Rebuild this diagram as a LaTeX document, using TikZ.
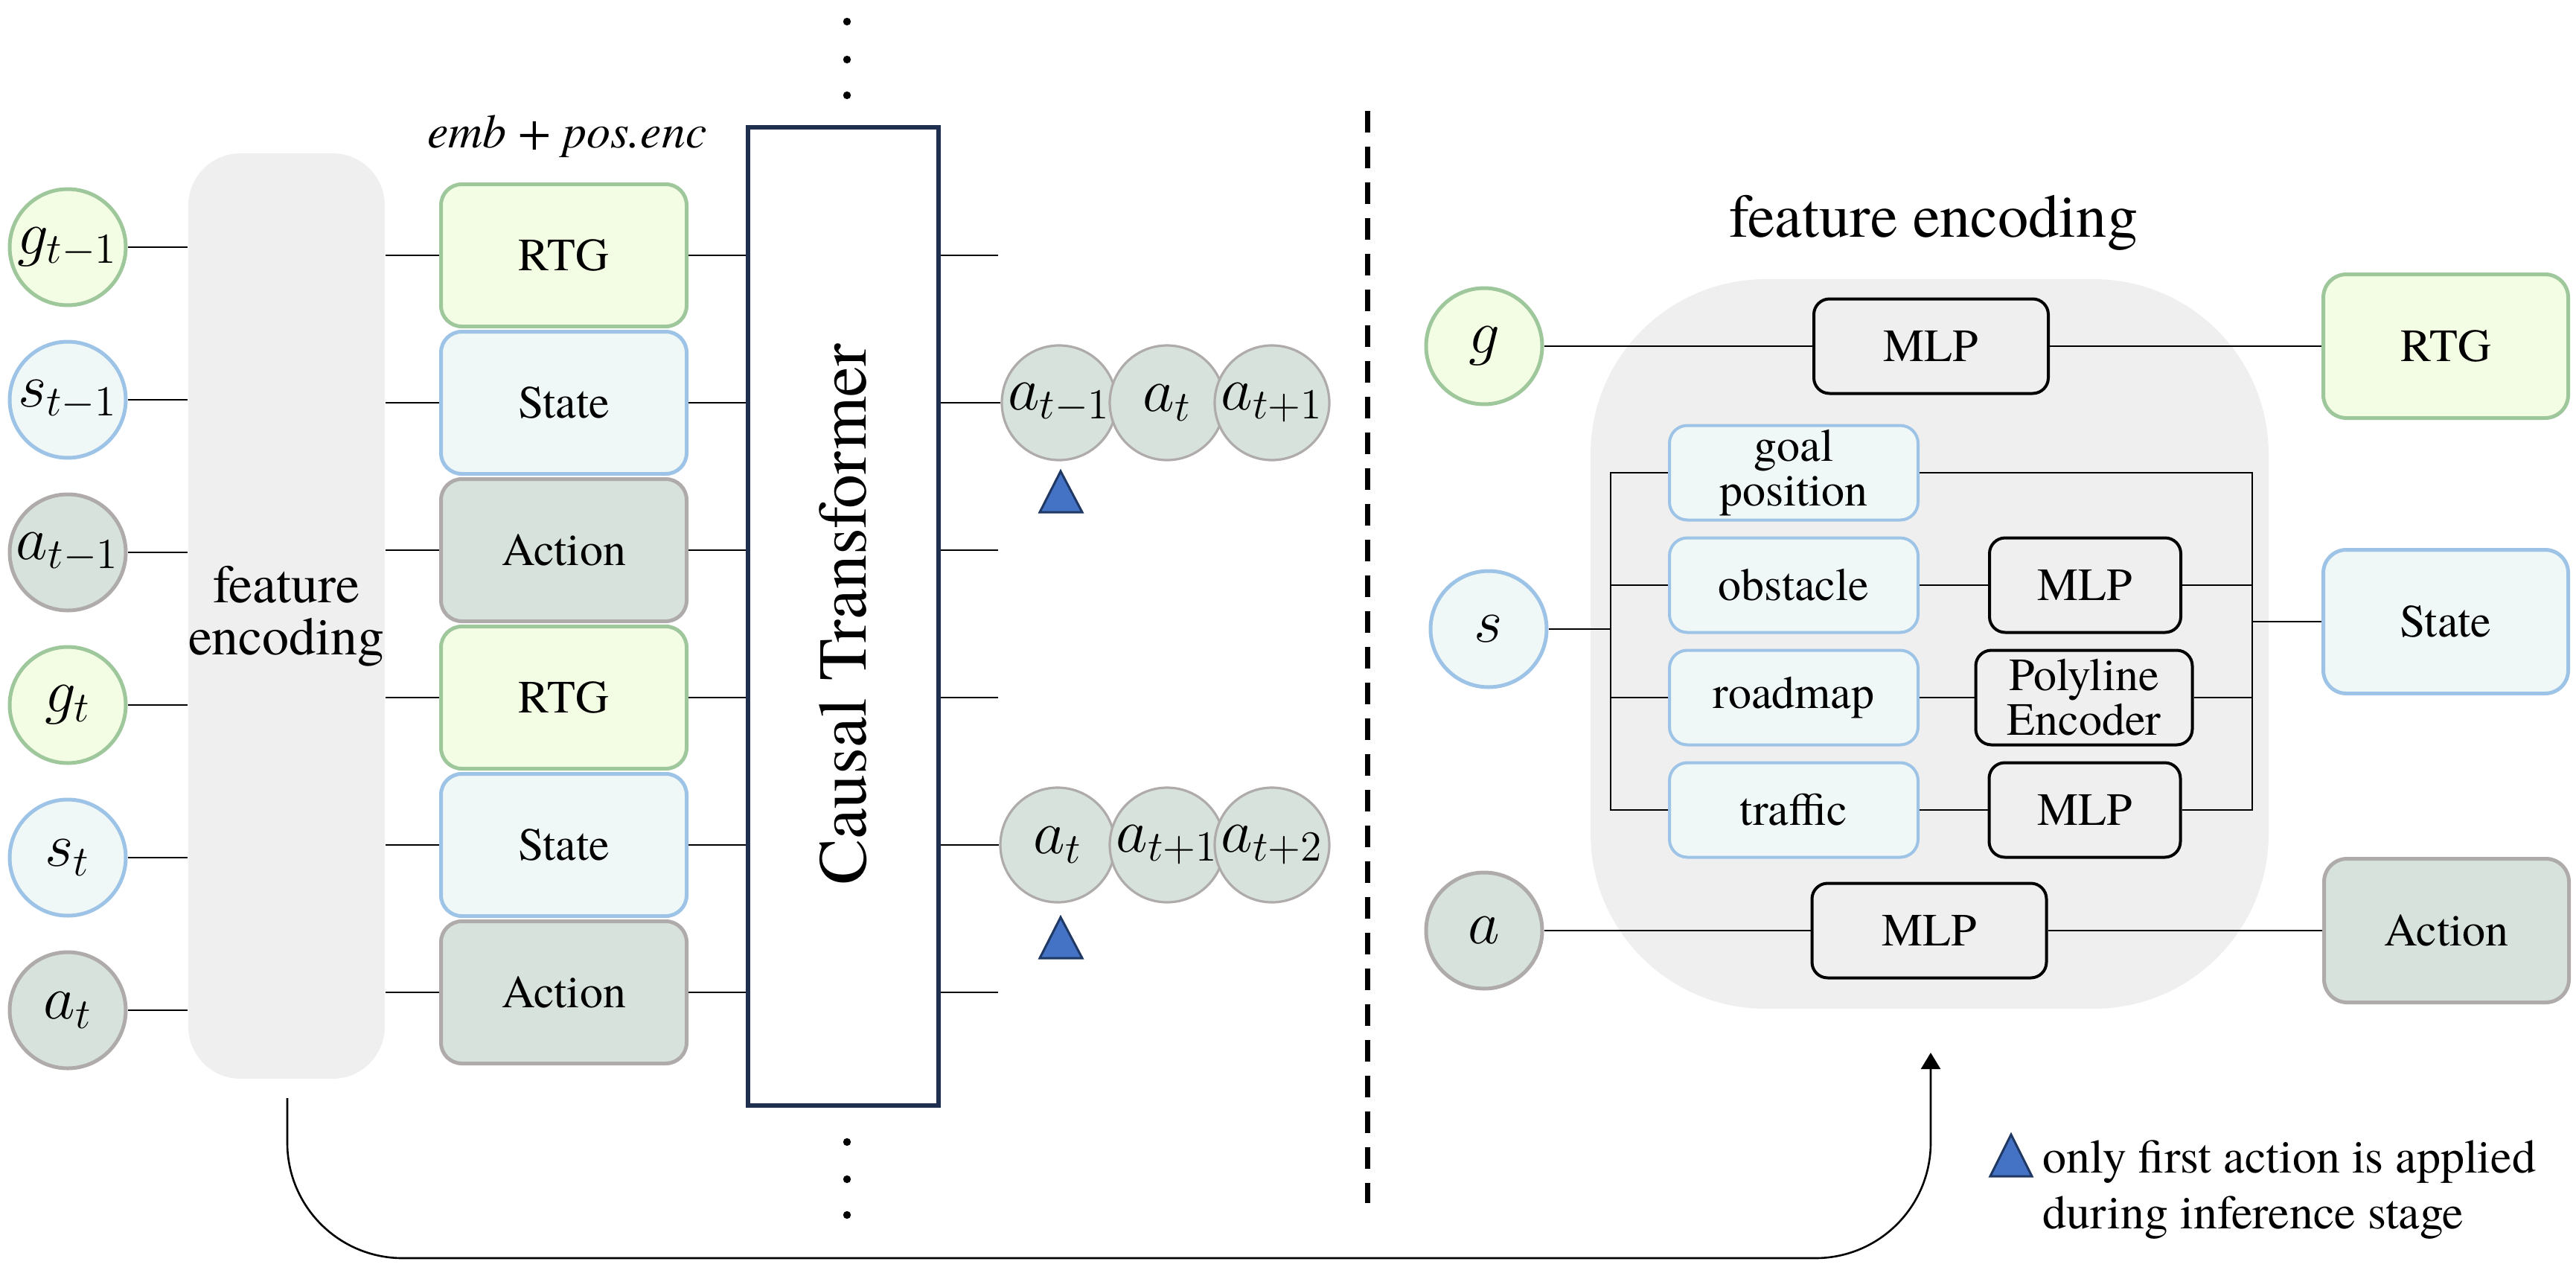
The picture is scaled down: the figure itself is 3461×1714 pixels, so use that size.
\documentclass[tikz,border=0pt]{standalone}
\usepackage{fontspec}
\setmainfont{TeX Gyre Termes}
\usetikzlibrary{arrows.meta}
\definecolor{grnF}{HTML}{F3FDE3}
\definecolor{grnB}{HTML}{9EC79B}
\definecolor{bluF}{HTML}{EFF8F6}
\definecolor{bluB}{HTML}{9DC3E6}
\definecolor{gryF}{HTML}{D7E2DC}
\definecolor{gryB}{HTML}{AFABAB}
\definecolor{feF}{HTML}{EFEFEF}
\definecolor{navy}{HTML}{1F2F4F}
\definecolor{triF}{HTML}{4472C4}
\definecolor{triB}{HTML}{1F3864}
\tikzset{
  lbl/.style={font=\rmfamily\fontsize{15.5}{15}\selectfont, align=center, inner sep=0pt},
  conn/.style={line width=0.65pt, black},
  circ/.style={circle, line width=1.25pt, minimum size=39pt, inner sep=0pt, font=\fontsize{20}{20}\selectfont},
  cgrn/.style={circ, draw=grnB, fill=grnF},
  cblu/.style={circ, draw=bluB, fill=bluF},
  cgry/.style={circ, draw=gryB, fill=gryF},
  ocirc/.style={circle, line width=0.8pt, draw=gryB, fill=gryF, minimum size=38.5pt, inner sep=0pt, font=\fontsize{20}{20}\selectfont},
  embbox/.style={lbl, rounded corners=7pt, line width=1.25pt, minimum width=82.5pt, minimum height=47.75pt},
  egrn/.style={embbox, draw=grnB, fill=grnF},
  eblu/.style={embbox, draw=bluB, fill=bluF},
  egry/.style={embbox, draw=gryB, fill=gryF},
  outbox/.style={lbl, rounded corners=7.75pt, line width=1.25pt, minimum width=82.25pt, minimum height=48.25pt},
  subbox/.style={lbl, rounded corners=6pt, line width=1pt, draw=bluB, fill=bluF, minimum width=83.5pt, minimum height=31.75pt},
  mlpbox/.style={lbl, rounded corners=5.25pt, line width=1pt, draw=black, minimum height=31.75pt},
  tri/.style={fill=triF, draw=triB, line width=0.75pt, line join=miter},
  legend/.style={font=\rmfamily\fontsize{16}{18}\selectfont, inner sep=0pt, anchor=base west}
}
\begin{document}
\begin{tikzpicture}[x=0.25pt,y=-0.25pt]
\useasboundingbox (0,0) rectangle (3461,1714);

% ---------- left part ----------
\node[fill=feF, rounded corners=17.5pt, minimum width=65pt, minimum height=310.75pt, inner sep=0pt, align=center, font=\rmfamily\fontsize{18}{17.5}\selectfont] (fe) at (385,827.5) {feature\\encoding};

\node[font=\rmfamily\itshape\fontsize{16}{18}\selectfont, anchor=base, inner sep=0pt] (emb) at (762,198) {emb + pos.enc};

\node[cgrn] (c1) at (91,332) {$g_{t-1}$};
\node[cblu] (c2) at (91,537) {$s_{t-1}$};
\node[cgry] (c3) at (91,742) {$a_{t-1}$};
\node[cgrn] (c4) at (91,947) {$g_{t}$};
\node[cblu] (c5) at (91,1152) {$s_{t}$};
\node[cgry] (c6) at (91,1357) {$a_{t}$};

\node[egrn] (b1) at (757.5,343) {RTG};
\node[eblu] (b2) at (757.5,541) {State};
\node[egry] (b3) at (757.5,739) {Action};
\node[egrn] (b4) at (757.5,937) {RTG};
\node[eblu] (b5) at (757.5,1135) {State};
\node[egry] (b6) at (757.5,1333) {Action};

\node[draw=navy, line width=1.5pt, minimum width=64pt, minimum height=328.5pt, inner sep=0pt] (tf) at (1133,828) {};
\node[rotate=90, font=\rmfamily\fontsize{23}{25}\selectfont, inner sep=0pt] (tftext) at (1133,825) {Causal Transformer};

\foreach \i in {1,...,6} {
  \draw[conn] (c\i.east) -- (c\i.east -| fe.west);
  \draw[conn] (fe.east |- b\i.west) -- (b\i.west);
  \draw[conn] (b\i.east) -- (b\i.east -| tf.west);
}

% outputs
\node[ocirc] (o11) at (1423,541) {$a_{t-1}$};
\node[ocirc] (o12) at (1568,541) {$a_{t}$};
\node[ocirc] (o13) at (1709,541) {$a_{t+1}$};
\node[ocirc] (o21) at (1421,1135) {$a_{t}$};
\node[ocirc] (o22) at (1568,1135) {$a_{t+1}$};
\node[ocirc] (o23) at (1709,1135) {$a_{t+2}$};

\coordinate (r1) at (1341,343);
\coordinate (r3) at (1341,739);
\coordinate (r4) at (1341,937);
\coordinate (r6) at (1341,1333);
\draw[conn] (tf.east |- r1) -- (r1);
\draw[conn] (tf.east |- o11.west) -- (o11.west);
\draw[conn] (tf.east |- r3) -- (r3);
\draw[conn] (tf.east |- r4) -- (r4);
\draw[conn] (tf.east |- o21.west) -- (o21.west);
\draw[conn] (tf.east |- r6) -- (r6);

\filldraw[tri] (1425,633) -- (1454,688) -- (1397,688) -- cycle;
\filldraw[tri] (1425,1232) -- (1454,1287) -- (1397,1287) -- cycle;

\foreach \y in {29,80,128,1534,1584,1632} \fill (1138,\y) circle (1.3pt);

\draw[line width=1.75pt, dash pattern=on 7.25pt off 4.75pt] (1837,149) -- (1837,1616);

% ---------- right part ----------
\node[fill=feF, rounded corners=58.75pt, minimum width=227.75pt, minimum height=245pt, inner sep=0pt] (fe2) at (2592.5,865) {};
\node[font=\rmfamily\fontsize{20.6}{22}\selectfont, anchor=base, inner sep=0pt] (title) at (2598,318) {feature encoding};

\node[cgrn] (g) at (1994,465) {$g$};
\node[cblu] (s) at (2000,845) {$s$};
\node[cgry] (a) at (1994,1250) {$a$};

\node[mlpbox, minimum width=78.75pt] (mlp1) at (2594.5,465) {MLP};
\node[mlpbox, minimum width=78.75pt] (mlp4) at (2592,1250) {MLP};
\node[outbox, draw=grnB, fill=grnF] (rtgR) at (3286,465) {RTG};
\node[outbox, draw=bluB, fill=bluF] (stR) at (3286,835) {State};
\node[outbox, draw=gryB, fill=gryF] (acR) at (3287,1250) {Action};

\node[subbox] (goal) at (2410,635) {goal\\position};
\node[subbox] (obst) at (2410,786) {obstacle};
\node[subbox] (road) at (2410,937) {roadmap};
\node[subbox] (traf) at (2410,1088) {traffic};

\node[mlpbox, minimum width=64.25pt] (mlp2) at (2801.5,786) {MLP};
\node[mlpbox, minimum width=72.75pt] (poly) at (2800,937) {Polyline\\Encoder};
\node[mlpbox, minimum width=64.25pt] (mlp3) at (2801,1088) {MLP};

\coordinate (busL) at (2164,0);
\coordinate (busR) at (3026,0);

\draw[conn] (g.east) -- (mlp1.west);
\draw[conn] (mlp1.east) -- (rtgR.west);
\draw[conn] (a.east) -- (mlp4.west);
\draw[conn] (mlp4.east) -- (acR.west);

\draw[conn] (s.east) -- (s.east -| busL);
\draw[conn] (goal.west) -- (goal.west -| busL) -- (traf.west -| busL) -- (traf.west);
\draw[conn] (obst.west -| busL) -- (obst.west);
\draw[conn] (road.west -| busL) -- (road.west);

\draw[conn] (goal.east) -- (goal.east -| busR) -- (mlp3.east -| busR) -- (mlp3.east);
\draw[conn] (mlp2.east) -- (mlp2.east -| busR);
\draw[conn] (poly.east) -- (poly.east -| busR);
\draw[conn] (stR.west -| busR) -- (stR.west);

\draw[conn] (obst.east) -- (mlp2.west);
\draw[conn] (road.east) -- (poly.west);
\draw[conn] (traf.east) -- (mlp3.west);

% ---------- feedback arrow ----------
\coordinate (fbs) at (386,1475);
\coordinate (arr) at (2594,1414);
\draw[conn, -{Triangle[length=5.5pt,width=6.5pt]}, rounded corners=38.75pt] (fbs) -- (386,1690) -- (2594,1690) -- (arr);

% ---------- legend ----------
\filldraw[tri] (2702,1524) -- (2730,1580) -- (2674,1580) -- cycle;
\node[legend] (lg1) at (2744,1575) {only first action is applied};
\node[legend] (lg2) at (2744,1650) {during inference stage};
\end{tikzpicture}
\end{document}
